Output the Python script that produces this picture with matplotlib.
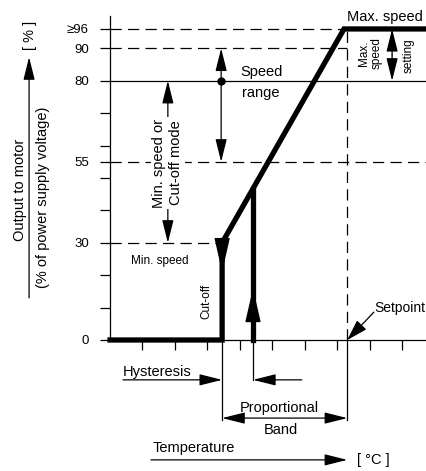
import matplotlib
matplotlib.use("Agg")
from matplotlib import pyplot as plt

plt.rcParams['font.family'] = ['Liberation Sans', 'DejaVu Sans']

# levels in % of supply voltage
y_ticks = [0, 10, 20, 30, 40, 50, 55, 60, 70, 80, 90, 96]
y_tick_labels = ['0', '', '', '30', '', '', '55', '', '', '80', '90', '\u226596']
x_ticks = [1, 2, 3, 4, 5, 6, 7, 8, 9]

min_speed = 30
speed_low = 55
speed_mid = 80
speed_high = 90
max_speed = 96

# temperature positions (arbitrary units)
cutoff_x = 3.45
restart_x = 4.4
max_x = 7.2
setpoint_x = 7.3
x_end = 9.75

curve_x = [0, cutoff_x, cutoff_x, max_x, x_end]
curve_y = [0, 0, min_speed, max_speed, max_speed]
restart_y = min_speed + (restart_x - cutoff_x) / (max_x - cutoff_x) * (max_speed - min_speed)

BIG = 10.5
SMALL = 8.5
LW = 0.9
THICK = 3.8
DASH = (9, 5)

fig = plt.figure(figsize=(4.27, 4.71), dpi=100)
ax = fig.add_axes([0, 0, 1, 1])
ax.set_xlim(-110 / 32.5, 317 / 32.5)
ax.set_ylim(-131 / 3.24, 340 / 3.24)

for s in ['top', 'right']:
    ax.spines[s].set_visible(False)
ax.spines['left'].set_position(('data', 0))
ax.spines['left'].set_bounds(0, 100)
ax.spines['bottom'].set_position(('data', 0))
ax.spines['bottom'].set_bounds(0, x_end)
for s in ['left', 'bottom']:
    ax.spines[s].set_linewidth(LW)

ax.set_xticks(x_ticks)
ax.set_xticklabels([])
ax.set_yticks(y_ticks)
ax.set_yticklabels(y_tick_labels, fontsize=9.5)
ax.tick_params(axis='both', direction='out', length=7.2, width=LW, pad=8)


def arrow(x0, y0, x1, y1, style='-|>', hl=1.4, hw=0.35):
    ax.annotate('', xy=(x1, y1), xytext=(x0, y0),
                arrowprops=dict(arrowstyle='%s,head_length=%s,head_width=%s' % (style, hl, hw),
                                color='black', lw=LW, shrinkA=0, shrinkB=0,
                                mutation_scale=10))


# reference lines
ax.plot([0, max_x], [max_speed, max_speed], color='black', lw=LW, dashes=DASH)
ax.plot([0, setpoint_x], [speed_high, speed_high], color='black', lw=LW, dashes=DASH)
ax.plot([0, x_end], [speed_mid, speed_mid], color='black', lw=LW)
ax.plot([0, x_end], [speed_low, speed_low], color='black', lw=LW, dashes=DASH)
ax.plot([0, cutoff_x], [min_speed, min_speed], color='black', lw=LW, dashes=DASH)
ax.plot([setpoint_x, setpoint_x], [0, max_speed], color='black', lw=LW, dashes=DASH)

# output curve
ax.plot(curve_x, curve_y, color='black', lw=THICK, solid_joinstyle='miter')
ax.plot([restart_x, restart_x], [0, restart_y], color='black', lw=THICK)
arrow(cutoff_x, 27, cutoff_x, 21, hl=2.2, hw=0.5)
arrow(restart_x, 9.3, restart_x, 16, hl=2.2, hw=0.5)

# speed range
arrow(3.42, speed_mid, 3.42, speed_high)
arrow(3.42, speed_mid, 3.42, speed_low)
ax.plot([3.42], [speed_mid], 'o', color='black', ms=5)
ax.text(4.0, 82.7, 'Speed', fontsize=BIG, va='center')
ax.text(4.06, 76.2, 'range', fontsize=BIG, va='center')

# min speed or cut-off
arrow(1.78, 55, 1.78, speed_mid)
arrow(1.78, 55, 1.78, min_speed)
ax.text(1.78, 54.6, 'Min. speed or\nCut-off mode', fontsize=BIG, rotation=90,
        ha='center', va='center', linespacing=1.3,
        bbox=dict(facecolor='white', edgecolor='none', pad=1))
ax.text(1.54, 24.4, 'Min. speed', fontsize=SMALL, ha='center', va='center')
ax.text(2.98, 12, 'Cut-off', fontsize=SMALL, rotation=90, ha='center', va='center')

# max speed
ax.text(8.46, 99.7, 'Max. speed', fontsize=BIG, ha='center', va='center')
arrow(8.68, 88, 8.68, max_speed)
arrow(8.68, 88, 8.68, speed_mid)
ax.text(8.0, 88.6, 'Max.\nspeed', fontsize=SMALL, rotation=90, ha='center', va='center',
        linespacing=1.1)
ax.text(9.2, 87.7, 'setting', fontsize=SMALL, rotation=90, ha='center', va='center')

# setpoint
ax.text(8.12, 9.9, 'Setpoint', fontsize=10, va='center')
arrow(8.12, 8.6, setpoint_x, 0, hl=1.3, hw=0.4)

# y label
arrow(-2.49, 13, -2.49, 87.3)
ax.text(-2.46, 94.1, '[ % ]', fontsize=BIG, rotation=90, ha='center', va='center')
ax.text(-2.77, 46.3, 'Output to motor', fontsize=BIG, rotation=90, ha='center', va='center')
ax.text(-2.06, 44.1, '(% of power supply voltage)', fontsize=BIG, rotation=90,
        ha='center', va='center')

# below the axis
ax.plot([cutoff_x, cutoff_x], [0, -24.7], color='black', lw=LW)
ax.plot([restart_x, restart_x], [0, -12.3], color='black', lw=LW)
ax.plot([setpoint_x, setpoint_x], [0, -24.7], color='black', lw=LW)
ax.text(0.4, -9.9, 'Hysteresis', fontsize=BIG, va='center')
arrow(0.4, -12.3, cutoff_x, -12.3)
arrow(5.9, -12.3, restart_x, -12.3)
arrow(cutoff_x, -24.1, setpoint_x, -24.1, style='<|-|>')
ax.text(5.2, -21, 'Proportional', fontsize=BIG, ha='center', va='center')
ax.text(5.26, -27.8, 'Band', fontsize=BIG, ha='center', va='center')
ax.text(1.32, -33.3, 'Temperature', fontsize=BIG, va='center')
arrow(1.26, -37, setpoint_x, -37)
ax.text(7.6, -37, '[ \u00b0C ]', fontsize=BIG, va='center')

fig.savefig('out.png', dpi=100)
